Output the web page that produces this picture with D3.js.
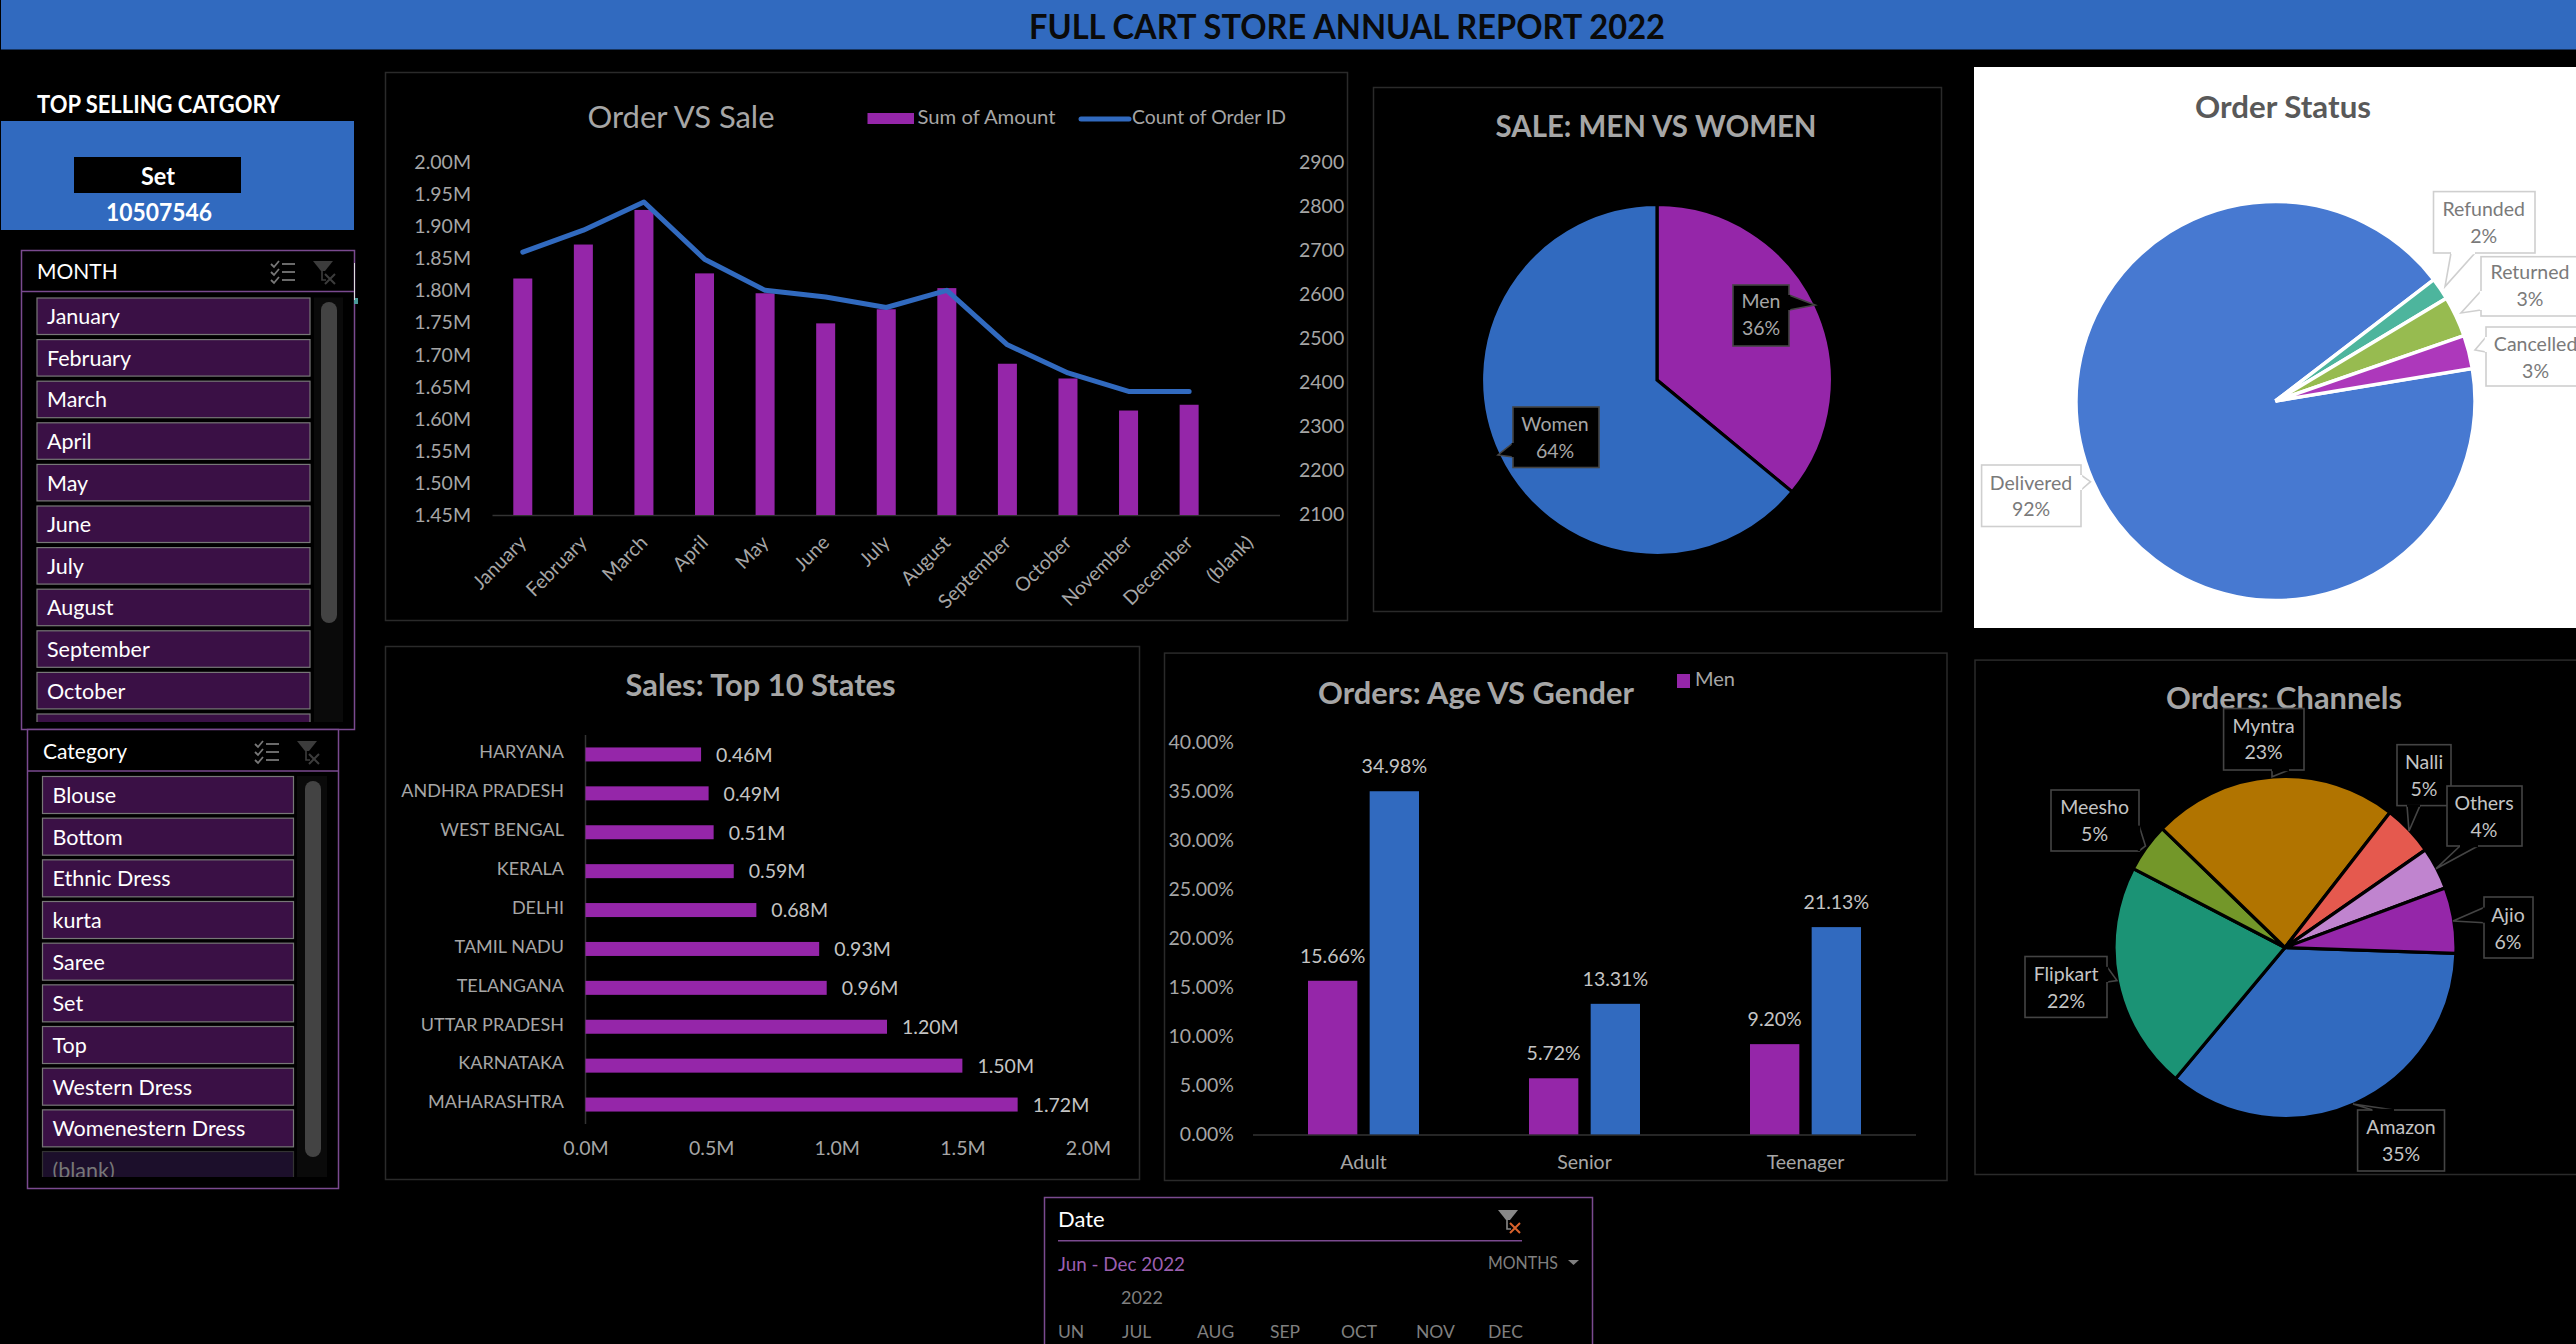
<!DOCTYPE html>
<html><head><meta charset="utf-8">
<script src="https://cdn.jsdelivr.net/npm/d3@7"></script>
<style>
html,body{margin:0;padding:0;background:#000;overflow:hidden}
svg{display:block}
text{font-family:Lato,Carlito,sans-serif}
</style></head><body>
<svg id="c" width="2576" height="1344"></svg>
<script>
// ---------- data ----------
const months = ["January","February","March","April","May","June","July","August","September","October","November","December","(blank)"];
const monthAmount = [1.819,1.872,1.926,1.827,1.796,1.749,1.771,1.804,1.686,1.663,1.613,1.622];
const monthOrders = [2696,2746,2810,2680,2609,2594,2570,2609,2485,2421,2379,2379];
const amountTicks = [1.45,1.50,1.55,1.60,1.65,1.70,1.75,1.80,1.85,1.90,1.95,2.00];
const orderTicks = [2100,2200,2300,2400,2500,2600,2700,2800,2900];
const monthSlicer = ["January","February","March","April","May","June","July","August","September","October","November"];
const categorySlicer = ["Blouse","Bottom","Ethnic Dress","kurta","Saree","Set","Top","Western Dress","Womenestern Dress","(blank)"];
const genderNames = ["Men","Women"];
const genderShare = [36,64];
const statusNames = ["Delivered","Refunded","Returned","Cancelled"];
const statusShare = [92.2,1.8,3.3,2.7];
const states = ["HARYANA","ANDHRA PRADESH","WEST BENGAL","KERALA","DELHI","TAMIL NADU","TELANGANA","UTTAR PRADESH","KARNATAKA","MAHARASHTRA"];
const stateSales = [0.46,0.49,0.51,0.59,0.68,0.93,0.96,1.20,1.50,1.72];
const salesTicks = [0,0.5,1,1.5,2];
const ageGroups = ["Adult","Senior","Teenager"];
const ageMen = [15.66,5.72,9.20];
const ageWomen = [34.98,13.31,21.13];
const ageTicks = [0,5,10,15,20,25,30,35,40];
const channelNames = ["Amazon","Flipkart","Meesho","Myntra","Nalli","Others","Ajio"];
const channelShare = [35.4,21.5,4.6,23.2,4.8,4.0,6.2];
const dateMonths = ["UN","JUL","AUG","SEP","OCT","NOV","DEC"];

// ---------- palette ----------
const PURPLE="#9526a9", BLUE="#316abf", GRID="#2a2a2a", AXIS="#333", MUTED="#a6a6a6", LIGHT="#c4c4c4", ITEM="#3a1045", SLICE="#7a4a8f";
const rad = d => d*Math.PI/180;
const svg = d3.select("#c");

function rect(x0,y0,x1,y1,fill,stroke,sw){
  return svg.append("rect").attr("x",x0).attr("y",y0).attr("width",x1-x0).attr("height",y1-y0)
    .attr("fill",fill||"none").attr("stroke",stroke||"none").attr("stroke-width",sw||1);
}
function label(x,y,s,o={}){
  const t = svg.append("text").attr("x",x).attr("y",y).attr("dy","0.35em").text(s)
    .attr("text-anchor",o.anchor||"start").attr("fill",o.fill||"#fff")
    .attr("font-size",o.size||21).attr("font-weight",o.weight||400);
  if(o.len) t.attr("textLength",o.len).attr("lengthAdjust","spacingAndGlyphs");
  return t;
}
function panel(x0,y0,x1,y1){ rect(x0+.5,y0+.5,x1+.5,y1+.5,"none",GRID,1.5); }
function styleAxis(g,size,fill){
  g.select(".domain").remove();
  g.selectAll(".tick line").remove();
  g.selectAll("text").attr("fill",fill||MUTED).attr("font-size",size||19).style("font-family","Lato,Carlito,sans-serif");
}
function callout(c,name,pct,bg,stroke,fill){
  const g = svg.append("g");
  g.append("rect").attr("x",c.box[0]).attr("y",c.box[1]).attr("width",c.box[2]-c.box[0]).attr("height",c.box[3]-c.box[1])
    .attr("fill",bg).attr("stroke",stroke).attr("stroke-width",1.6);
  g.append("path").attr("d",d3.line()([c.base[0],c.tip,c.base[1]])).attr("fill",bg).attr("stroke",stroke).attr("stroke-width",1.6);
  g.append("path").attr("d",d3.line()(c.base)).attr("stroke",bg).attr("stroke-width",2.4);
  g.append("text").attr("x",c.tx).attr("y",c.y1).attr("dy","0.35em").attr("text-anchor","middle").attr("fill",fill).attr("font-size",19.5).text(name);
  g.append("text").attr("x",c.tx).attr("y",c.y2).attr("dy","0.35em").attr("text-anchor","middle").attr("fill",fill).attr("font-size",19.5).text(pct+"%");
}
function filterIcon(cx,cy,col,xcol){
  const g=svg.append("g").attr("transform",`translate(${cx},${cy})`);
  g.append("path").attr("d","M-10,-11L10,-11L2,-1L-2,-1Z").attr("fill",col);
  g.append("path").attr("d","M-1,-1V8H3").attr("fill","none").attr("stroke",col).attr("stroke-width",1.6);
  g.append("path").attr("d","M2,2L12,12M12,2L2,12").attr("stroke",xcol||col).attr("stroke-width",2);
}
function checkIcon(cx,cy,col){
  const g=svg.append("g").attr("transform",`translate(${cx},${cy})`).attr("fill","none").attr("stroke",col).attr("stroke-width",1.8);
  [-8,0,8].forEach(d=>{
    g.append("path").attr("d",`M-12,${d}l3,3l5,-6`);
    g.append("path").attr("d",`M-1,${d}H12`);
  });
}

// ---------- header ----------
rect(1,0,2576,49.5,BLUE);
label(1347,27,"FULL CART STORE ANNUAL REPORT 2022",{anchor:"middle",fill:"#0a0a0a",size:34,weight:700,len:636});

// ---------- KPI ----------
label(37,105,"TOP SELLING CATGORY",{size:24,weight:700,len:243});
rect(1,121,354,230,BLUE);
rect(74,157,241,193,"#000");
label(158,177,"Set",{anchor:"middle",size:24,weight:700,len:34});
label(159,213,"10507546",{anchor:"middle",size:24,weight:700,len:106});

// ---------- slicers ----------
function slicer(o){
  rect(o.x0+.5,o.y0+.5,o.x1+.5,o.y1+.5,"#000",SLICE,1.5);
  svg.append("line").attr("x1",o.x0).attr("x2",o.x1).attr("y1",o.head).attr("y2",o.head).attr("stroke",SLICE).attr("stroke-width",1.5);
  label(o.tx,o.hy,o.title,{size:21});
  checkIcon(o.ic1,o.hy,"#777");
  filterIcon(o.ic2,o.hy,"#3c3c3c");
  const y = d3.scalePoint().domain(o.items).range([o.first,o.first+o.pitch*(o.items.length-1)]);
  const clipId="clip"+o.title;
  svg.append("clipPath").attr("id",clipId).append("rect").attr("x",o.x0).attr("y",o.head).attr("width",o.x1-o.x0).attr("height",o.clip-o.head);
  const g=svg.append("g").attr("clip-path",`url(#${clipId})`);
  const it=g.selectAll("g").data(o.items).join("g");
  it.append("rect").attr("x",o.ix0+.5).attr("y",d=>y(d)+.5).attr("width",o.ix1-o.ix0).attr("height",o.ih)
    .attr("fill",d=>d==="(blank)"?"#1c0f2b":ITEM).attr("stroke",d=>d==="(blank)"?"#333":"#777").attr("stroke-width",1.2);
  it.filter(d=>y(d)+o.ih/2<o.clip).append("text").attr("x",o.ix0+10.5).attr("y",d=>y(d)+o.ih/2+1).attr("dy","0.35em").attr("font-size",21.5)
    .attr("fill",d=>d==="(blank)"?"#777":"#fff").text(d=>d);
  rect(o.tr0,o.first,o.tr1,o.clip,"#0a0a0a");
  rect(o.sb0,o.sy0,o.sb1,o.sy1,"#434343").attr("rx",8);
}
slicer({title:"MONTH",items:monthSlicer,x0:21,x1:354,y0:250,y1:729,head:291.5,tx:37,hy:272,ic1:283,ic2:323,
  first:297.5,pitch:41.6,ih:36.5,ix0:36.5,ix1:309.5,clip:722,tr0:314,tr1:343,sb0:321,sb1:337,sy0:302,sy1:623});
slicer({title:"Category",items:categorySlicer,x0:27,x1:338,y0:729,y1:1188,head:771,tx:43,hy:752,ic1:267,ic2:307,
  first:776,pitch:41.67,ih:37,ix0:42,ix1:293,clip:1177,tr0:297,tr1:327,sb0:305,sb1:321,sy0:781,sy1:1157});
rect(354,298,358,304,"#4a9a9a");
rect(354,263,355,300,"#ddd");

// ---------- Order VS Sale ----------
panel(385,72,1347,620);
label(681,117,"Order VS Sale",{anchor:"middle",size:30,fill:MUTED,len:187});
rect(867.5,113,914,124,PURPLE);
label(917.5,117,"Sum of Amount",{size:19,fill:MUTED,len:138});
svg.append("line").attr("x1",1081).attr("x2",1129).attr("y1",119).attr("y2",119).attr("stroke",BLUE).attr("stroke-width",5).attr("stroke-linecap","round");
label(1132,117,"Count of Order ID",{size:19,fill:MUTED,len:154});
{
  const x=d3.scaleBand().domain(months).range([492.5,1280]);
  const yL=d3.scaleLinear().domain([1.45,2.0]).range([515,162.5]);
  const yR=d3.scaleLinear().domain([2100,2900]).range([514,162.5]);
  svg.append("g").attr("transform","translate(471,0)").call(d3.axisLeft(yL).tickValues(amountTicks).tickFormat(d=>d.toFixed(2)+"M").tickSize(0).tickPadding(0)).call(styleAxis,19.5);
  svg.append("g").attr("transform","translate(1299,0)").call(d3.axisRight(yR).tickValues(orderTicks).tickFormat(d3.format("d")).tickSize(0).tickPadding(0)).call(styleAxis,19.5);
  svg.append("line").attr("x1",492.5).attr("x2",1280).attr("y1",515.5).attr("y2",515.5).attr("stroke",AXIS).attr("stroke-width",1.5);
  const bw=19;
  svg.append("g").selectAll("rect").data(monthAmount).join("rect")
    .attr("x",(d,i)=>x(months[i])+x.bandwidth()/2-bw/2).attr("width",bw)
    .attr("y",d=>yL(d)).attr("height",d=>yL(1.45)-yL(d)).attr("fill",PURPLE);
  svg.append("path").datum(monthOrders).attr("fill","none").attr("stroke",BLUE).attr("stroke-width",5).attr("stroke-linecap","round").attr("stroke-linejoin","round")
    .attr("d",d3.line().x((d,i)=>x(months[i])+x.bandwidth()/2).y(d=>yR(d)));
  svg.append("g").selectAll("text").data(months).join("text")
    .attr("transform",d=>`translate(${x(d)+x.bandwidth()/2},${539}) rotate(-45)`)
    .attr("text-anchor","end").attr("dy","0.35em").attr("font-size",19.5).attr("fill",MUTED).text(d=>d);
}

// ---------- Men vs Women ----------
panel(1373,87,1941,611);
label(1656,126,"SALE: MEN VS WOMEN",{anchor:"middle",size:30,weight:700,fill:MUTED,len:321});
{
  const pie=d3.pie().sort(null).value((d,i)=>genderShare[i])(genderNames);
  const arc=d3.arc().innerRadius(0).outerRadius(175.5);
  svg.append("g").attr("transform","translate(1657,380)").selectAll("path").data(pie).join("path")
    .attr("d",arc).attr("fill",(d,i)=>[PURPLE,BLUE][i]).attr("stroke","#000").attr("stroke-width",3.2);
  const pts=[
    {box:[1733,285,1789,346],tip:[1815,305],base:[[1789,295],[1789,310]],tx:1761,y1:301,y2:328},
    {box:[1513,407,1599,467.5],tip:[1498,455],base:[[1513,443],[1513,457]],tx:1555,y1:424,y2:451}];
  genderNames.forEach((n,i)=>callout(pts[i],n,genderShare[i],"#000","#444",MUTED));
}

// ---------- Order Status ----------
rect(1974,67,2576,628,"#fff");
label(2283,107,"Order Status",{anchor:"middle",size:30,weight:700,fill:"#595959",len:176});
{
  const start=rad(80.6);
  const pie=d3.pie().sort(null).startAngle(start).endAngle(start+2*Math.PI).value((d,i)=>statusShare[i])(statusNames);
  const arc=d3.arc().innerRadius(0).outerRadius(199.5);
  svg.append("g").attr("transform","translate(2275.5,401)").selectAll("path").data(pie).join("path")
    .attr("d",arc).attr("fill",(d,i)=>["#4779d1","#4db59d","#97bb50","#ad38bb"][i]).attr("stroke","#fff").attr("stroke-width",3.5);
  const pts=[
    {box:[1981.6,465,2081,526.5],tip:[2090.5,481.7],base:[[2081,475],[2081,490]],tx:2031,y1:483,y2:509},
    {box:[2433.5,191.6,2535,253],tip:[2445,286.5],base:[[2451,253],[2475,253]],tx:2483.7,y1:209.6,y2:236},
    {box:[2481,256.7,2590,316],tip:[2461,313],base:[[2481,291],[2481,310]],tx:2530,y1:272,y2:299},
    {box:[2486,327,2590,386],tip:[2475,350],base:[[2486,337],[2486,352]],tx:2535.6,y1:344,y2:371}];
  statusNames.forEach((n,i)=>callout(pts[i],n,Math.round(statusShare[i]),"#fff","#cfcfcf","#7a7a7a"));
}

// ---------- Top 10 States ----------
panel(385,646,1139,1179);
label(760.6,685.6,"Sales: Top 10 States",{anchor:"middle",size:30,weight:700,fill:MUTED,len:270});
{
  const x=d3.scaleLinear().domain([0,2]).range([585.5,1088]);
  const y=d3.scaleBand().domain(states).range([735,1124]);
  svg.append("line").attr("x1",585.5).attr("x2",585.5).attr("y1",735).attr("y2",1124).attr("stroke",AXIS).attr("stroke-width",1.5);
  const h=14;
  svg.append("g").selectAll("rect").data(stateSales).join("rect")
    .attr("x",x(0)).attr("width",d=>x(d)-x(0)).attr("y",(d,i)=>y(states[i])+y.bandwidth()/2-h/2).attr("height",h).attr("fill",PURPLE);
  svg.append("g").selectAll("text").data(stateSales).join("text")
    .attr("x",d=>x(d)+15).attr("y",(d,i)=>y(states[i])+y.bandwidth()/2+.5).attr("dy","0.35em")
    .attr("font-size",19.5).attr("fill",LIGHT).text(d=>d.toFixed(2)+"M");
  svg.append("g").attr("transform","translate(564,-2)").call(d3.axisLeft(y).tickSize(0).tickPadding(0)).call(styleAxis,18);
  svg.append("g").attr("transform","translate(0,1141)").call(d3.axisBottom(x).tickValues(salesTicks).tickFormat(d=>d.toFixed(1)+"M").tickSize(0).tickPadding(0)).call(styleAxis,19.5);
}

// ---------- Age vs Gender ----------
panel(1164,652.6,1946.5,1180);
label(1476,693,"Orders: Age VS Gender",{anchor:"middle",size:30,weight:700,fill:MUTED,len:316});
rect(1677,674,1690,688,PURPLE);
label(1695,679,"Men",{size:19.5,fill:MUTED,len:40});
{
  const x=d3.scaleBand().domain(ageGroups).range([1253,1916]);
  const inner=d3.scaleBand().domain(genderNames).range([x.bandwidth()/2-55.5,x.bandwidth()/2+55.5]).paddingInner(0.2);
  const y=d3.scaleLinear().domain([0,40]).range([1134.4,742]);
  svg.append("g").attr("transform","translate(1234,0)").call(d3.axisLeft(y).tickValues(ageTicks).tickFormat(d=>d.toFixed(2)+"%").tickSize(0).tickPadding(0)).call(styleAxis,19.5);
  svg.append("line").attr("x1",1253).attr("x2",1916).attr("y1",1134.9).attr("y2",1134.9).attr("stroke",AXIS).attr("stroke-width",1.5);
  [["Men",ageMen,PURPLE],["Women",ageWomen,BLUE]].forEach(([name,vals,col])=>{
    const g=svg.append("g");
    g.selectAll("rect").data(vals).join("rect")
      .attr("x",(d,i)=>x(ageGroups[i])+inner(name)).attr("width",inner.bandwidth())
      .attr("y",d=>y(d)).attr("height",d=>y(0)-y(d)).attr("fill",col);
    g.selectAll("text").data(vals).join("text")
      .attr("x",(d,i)=>x(ageGroups[i])+inner(name)+inner.bandwidth()/2).attr("y",d=>y(d)-25).attr("dy","0.35em")
      .attr("text-anchor","middle").attr("font-size",19.5).attr("fill",LIGHT).text(d=>d.toFixed(2)+"%");
  });
  svg.append("g").attr("transform","translate(0,1155)").call(d3.axisBottom(x).tickSize(0).tickPadding(0)).call(styleAxis,19.5);
}

// ---------- Channels ----------
panel(1974.5,659.6,2580,1174);
label(2284,698,"Orders: Channels",{anchor:"middle",size:30,weight:700,fill:MUTED,len:236});
{
  const start=rad(92);
  const pie=d3.pie().sort(null).startAngle(start).endAngle(start+2*Math.PI).value((d,i)=>channelShare[i])(channelNames);
  const arc=d3.arc().innerRadius(0).outerRadius(171);
  svg.append("g").attr("transform","translate(2285,947.5)").selectAll("path").data(pie).join("path")
    .attr("d",arc).attr("fill",(d,i)=>[BLUE,"#1b9375","#739729","#b17400","#e5594e","#c084cf",PURPLE][i]).attr("stroke","#000").attr("stroke-width",3.2);
  const pts=[
    {box:[2357.6,1110,2444.5,1171],tip:[2353,1104],base:[[2372.6,1110],[2394,1110]],tx:2401,y1:1127,y2:1154},
    {box:[2025,956.5,2107,1017.4],tip:[2117,980.6],base:[[2107,966.8],[2107,982]],tx:2066,y1:974,y2:1001},
    {box:[2051,790,2139,851],tip:[2145.5,846],base:[[2139,825.6],[2139,851]],tx:2094.6,y1:807,y2:834},
    {box:[2223.6,708.5,2304,770],tip:[2272,776.7],base:[[2272,770],[2289,770]],tx:2263.6,y1:726.4,y2:752.6},
    {box:[2397,744.7,2451,805.6],tip:[2409,831],base:[[2407,805.6],[2420,805.6]],tx:2424,y1:762,y2:789},
    {box:[2447,786,2522,846],tip:[2436,868.7],base:[[2460,846],[2478,846]],tx:2484,y1:803,y2:830},
    {box:[2484,897,2533,958],tip:[2453,921],base:[[2484,907.6],[2484,922.7]],tx:2508,y1:915,y2:942}];
  channelNames.forEach((n,i)=>callout(pts[i],n,Math.round(channelShare[i]),"#000","#444",LIGHT));
}

// ---------- Date slicer ----------
rect(1044.5,1197.5,1592.5,1360,"#000",SLICE,1.5);
label(1058,1219,"Date",{size:22});
filterIcon(1508,1221,"#888","#d9622b");
svg.append("line").attr("x1",1058).attr("x2",1522).attr("y1",1240.7).attr("y2",1240.7).attr("stroke",SLICE).attr("stroke-width",1.5);
label(1058,1264,"Jun - Dec 2022",{size:19.5,fill:"#9b5fb0",len:127});
label(1488,1263,"MONTHS",{size:17.5,fill:"#7f7f7f",len:70});
svg.append("path").attr("d","M1568,1260h11l-5.5,5Z").attr("fill","#7f7f7f");
label(1142,1298,"2022",{anchor:"middle",size:18,fill:"#7f7f7f"});
{
  const x=d3.scaleOrdinal().domain(dateMonths).range([1058,1122,1197,1270,1341,1416,1488]);
  svg.append("g").selectAll("text").data(dateMonths).join("text")
    .attr("x",d=>x(d)).attr("y",1332).attr("dy","0.35em").attr("font-size",17.5).attr("fill","#7f7f7f").text(d=>d);
}
</script></body></html>
